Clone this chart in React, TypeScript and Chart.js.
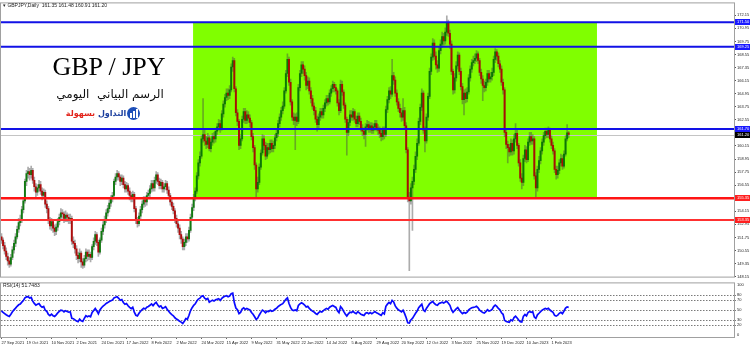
import React, { useEffect, useRef } from "react";
import { Chart, registerables } from "chart.js";
Chart.register(...registerables);

const symbolHeader = "GBPJPY,Daily  161.35 161.48 160.91 161.20";
const titleText = "GBP / JPY";
const subtitleText = "الرسم البياني  اليومي";
const brandBlue = "التداول";
const brandRed = "بسهولة";
const rsiHeader = "RSI(14) 51.7483";

const firstOpen = 151.8;
const closes = [
  151.5,151.0,150.5,150.0,149.6,149.3,149.9,150.6,151.2,151.8,
  152.5,153.1,153.4,154.3,155.1,156.9,157.6,157.8,157.5,157.9,
  157.0,156.4,155.9,156.3,156.6,156.0,155.6,155.9,154.8,154.4,
  153.3,152.8,153.2,152.6,152.3,152.7,153.2,153.6,154.0,153.9,
  153.5,153.8,153.6,153.4,153.5,151.4,151.2,150.7,150.1,149.8,
  150.3,149.5,149.2,149.8,150.4,150.0,150.2,149.9,150.9,151.4,
  152.0,151.3,150.4,151.5,152.3,152.9,153.4,154.0,154.4,154.9,
  155.3,155.6,156.9,157.3,157.6,157.3,156.9,157.2,156.6,156.2,
  156.5,156.0,155.6,155.3,155.7,154.4,153.3,153.0,153.7,154.3,
  154.8,155.2,155.0,155.6,155.8,156.2,156.7,156.3,157.0,157.5,
  156.9,156.5,156.8,156.2,156.4,156.7,156.1,155.6,155.0,154.6,
  154.2,153.5,153.0,152.6,152.0,151.6,150.9,151.3,151.8,151.6,
  152.4,153.6,154.5,155.4,156.0,157.4,158.6,159.2,160.8,161.2,
  160.6,160.3,160.9,159.9,160.5,161.0,160.8,161.5,161.9,162.2,
  161.8,163.1,164.0,164.6,165.0,164.8,165.3,167.4,168.0,165.4,
  163.2,162.4,160.2,160.8,162.6,163.3,162.5,163.0,162.7,162.3,
  161.0,160.0,158.4,156.2,156.8,158.2,159.5,160.8,160.2,159.2,
  160.0,159.8,160.4,159.9,160.2,160.9,161.3,162.2,162.8,163.4,
  163.8,165.2,166.8,168.1,166.0,164.2,162.8,162.5,162.8,162.4,
  165.5,166.8,167.6,167.2,166.6,165.7,166.1,165.2,164.5,163.8,
  163.4,162.6,162.1,162.8,163.3,163.0,163.6,164.1,164.5,164.2,
  165.0,165.4,165.8,165.5,165.2,164.1,163.4,165.8,165.1,163.9,
  162.6,161.4,162.3,163.0,162.8,163.3,162.6,162.2,162.9,162.4,
  161.8,161.5,161.2,161.9,162.1,161.7,162.0,161.6,161.9,162.2,
  161.8,161.6,161.3,161.0,161.6,161.2,163.5,164.4,165.2,164.9,
  166.6,166.2,165.0,164.2,163.6,163.2,162.8,163.4,162.0,159.8,
  155.4,155.1,156.3,156.9,158.0,159.2,160.4,162.4,163.7,165.0,
  161.6,160.6,162.8,164.7,167.0,168.3,169.6,168.4,167.6,167.3,
  168.9,169.5,170.2,169.8,170.6,171.4,170.5,169.5,167.0,165.3,
  166.4,167.5,168.5,167.0,165.6,164.4,165.0,164.5,165.1,166.4,
  167.2,167.8,168.0,168.2,168.6,168.0,166.9,166.3,165.7,165.5,
  166.0,166.8,166.3,166.5,166.9,168.1,168.8,168.4,167.7,167.2,
  166.0,165.3,161.4,160.3,160.0,159.6,160.4,159.7,160.8,161.3,
  160.2,158.6,157.2,156.8,159.0,159.8,158.9,160.5,161.0,160.6,
  160.8,157.4,156.3,158.0,158.8,159.7,160.5,161.1,161.5,161.2,
  161.6,160.8,160.2,159.7,158.0,157.5,157.9,158.6,159.0,158.3,
  159.4,160.8,161.35,161.2,
];
const highs = [
  152.1,151.7,151.3,150.8,150.3,149.9,150.2,150.9,151.5,152.1,
  152.8,153.5,153.8,154.6,155.4,157.1,157.9,158.2,158.1,158.3,
  158.1,157.3,156.7,156.6,157.0,156.9,156.3,156.2,156.1,155.1,
  154.6,153.6,153.5,153.4,152.9,153.0,153.5,153.9,154.4,154.3,
  154.1,154.2,154.0,153.9,153.9,153.7,151.8,151.5,151.0,150.4,
  150.7,150.5,149.8,150.1,150.7,150.6,150.6,150.4,151.1,151.7,
  152.3,152.2,151.5,151.7,152.6,153.2,153.7,154.3,154.7,155.2,
  155.6,155.9,157.1,157.6,157.9,157.8,157.5,157.5,157.4,156.9,
  156.8,156.7,156.3,155.9,156.0,155.9,154.6,153.6,154.0,154.6,
  155.1,155.5,155.5,155.9,156.1,156.5,157.0,157.0,157.3,157.8,
  157.7,157.2,157.1,157.0,156.7,157.0,156.9,156.4,155.8,155.3,
  154.9,154.4,153.8,153.3,152.9,152.3,151.8,151.6,152.1,152.1,
  152.7,153.9,154.8,155.7,156.3,157.7,158.9,159.6,161.1,164.5,
  161.6,161.0,161.3,161.1,160.8,161.3,161.4,161.8,162.2,162.6,
  162.5,163.4,164.3,164.9,165.4,165.4,165.7,167.7,168.3,168.2,
  165.6,163.5,162.6,161.2,162.9,163.6,163.6,163.4,163.3,163.0,
  162.5,161.3,160.2,158.6,157.3,158.5,159.8,161.2,161.1,160.5,
  160.4,160.4,160.7,160.7,160.6,161.2,161.7,162.5,163.1,163.7,
  164.2,165.5,167.1,168.6,168.3,166.3,164.4,163.2,163.1,163.2,
  165.8,167.1,167.9,167.9,167.5,166.9,166.5,166.4,165.5,164.8,
  164.1,163.7,162.9,163.1,163.6,163.6,163.9,164.4,164.8,164.8,
  165.3,165.7,166.1,166.0,165.8,165.4,164.4,166.2,166.1,165.3,
  164.1,162.8,162.6,163.4,163.4,163.6,163.5,162.9,163.2,163.2,
  162.7,162.1,161.8,162.2,162.5,162.4,162.3,162.3,162.2,162.5,
  162.5,162.1,161.9,161.6,161.9,161.9,163.8,164.7,165.5,165.6,
  168.1,166.9,166.5,165.3,164.5,164.0,163.6,164.5,163.7,162.3,
  160.0,155.9,156.7,157.3,158.4,159.6,160.8,162.7,164.0,165.4,
  165.2,161.9,163.1,165.0,167.3,168.6,170.0,169.9,168.8,168.0,
  169.2,169.9,170.6,170.5,171.0,172.1,171.7,170.8,169.8,167.2,
  166.8,167.9,168.8,168.7,167.3,165.9,165.3,165.4,165.5,166.7,
  167.5,168.1,168.4,168.6,168.9,168.8,168.2,167.2,166.6,166.1,
  166.3,167.1,167.1,166.9,167.3,168.4,169.1,169.0,168.7,168.0,
  167.5,166.3,165.5,161.7,160.6,160.3,160.8,160.7,161.2,162.2,
  161.6,160.4,158.9,157.6,159.3,160.2,160.1,160.8,161.4,161.4,
  161.2,161.0,157.7,158.3,159.2,160.0,160.8,161.4,161.8,161.8,
  161.9,161.8,161.1,160.5,159.9,158.3,158.3,158.9,159.4,159.3,
  159.7,161.1,162.1,161.48,
];
const lows = [
  151.2,150.7,150.2,149.7,149.2,149.0,149.1,149.7,150.3,150.9,
  151.6,152.2,152.8,153.1,154.0,154.9,156.5,157.2,157.0,157.2,
  156.7,156.0,155.5,155.6,156.0,155.7,155.2,155.3,154.5,154.0,
  153.0,152.5,152.4,152.2,151.9,152.0,152.4,152.9,153.3,153.5,
  153.1,153.2,153.2,153.0,153.0,151.1,150.8,150.3,149.7,149.4,
  149.5,149.0,148.9,149.0,149.5,149.6,149.7,149.5,149.7,150.6,
  151.1,151.0,150.0,150.2,151.3,152.0,152.6,153.1,153.7,154.1,
  154.6,155.0,155.4,156.6,157.0,157.0,156.5,156.6,156.3,155.9,
  155.9,155.7,155.2,155.0,155.0,154.1,153.0,152.7,152.8,153.4,
  154.0,154.5,154.6,154.7,155.3,155.5,155.9,156.0,156.0,156.7,
  156.6,156.2,156.2,155.9,155.9,156.1,155.8,155.3,154.7,154.3,
  153.9,153.1,152.7,152.2,151.6,151.2,150.6,150.6,151.0,151.3,
  151.4,152.2,153.3,154.2,155.1,155.8,157.1,158.3,159.0,160.5,
  160.2,159.9,160.0,159.7,159.6,160.2,160.4,160.5,161.2,161.6,
  161.4,161.6,162.8,163.7,164.3,164.4,164.5,165.1,167.0,165.1,
  162.9,162.0,159.8,159.9,160.6,162.3,162.2,162.2,162.3,161.9,
  160.7,159.6,158.0,155.4,155.9,156.6,158.0,159.3,159.8,158.9,
  159.0,159.4,159.5,159.6,159.6,159.9,160.6,161.0,161.9,162.5,
  163.1,163.6,165.0,166.5,165.7,163.9,162.5,162.1,159.8,162.0,
  162.2,165.2,166.5,166.8,166.2,165.3,165.4,164.9,164.1,163.5,
  163.0,162.3,161.5,161.8,162.5,162.7,162.7,163.3,163.8,163.9,
  164.0,164.7,165.1,165.1,164.9,163.8,163.0,163.2,164.8,163.6,
  162.3,159.3,161.1,162.0,162.5,162.5,162.3,161.9,161.9,162.1,
  161.5,161.1,160.8,160.1,161.6,161.4,161.4,161.3,161.3,161.6,
  161.5,161.2,160.9,160.6,160.7,160.8,161.0,163.2,164.1,164.5,
  164.7,165.8,164.7,163.9,163.3,162.8,162.4,162.5,161.7,159.5,
  155.0,148.7,154.8,152.4,156.6,157.7,158.9,160.2,162.1,163.4,
  161.3,159.6,160.4,162.5,164.5,166.7,168.0,168.1,167.2,166.9,
  167.0,168.6,169.2,169.4,169.5,170.3,170.2,169.1,166.7,164.9,
  165.0,166.1,167.2,166.7,165.3,164.0,163.0,164.1,164.2,164.9,
  166.1,166.9,167.5,167.7,167.9,167.7,166.6,165.9,164.3,165.1,
  165.2,165.7,166.0,166.0,166.2,166.6,167.8,168.0,167.4,166.9,
  165.7,164.9,161.0,159.9,158.6,159.2,159.3,159.3,159.4,160.5,
  159.9,158.3,156.9,156.2,156.5,158.7,158.6,158.7,160.2,160.3,
  160.3,157.1,155.4,156.0,157.7,158.5,159.4,160.2,160.8,160.9,
  160.9,160.5,159.9,159.4,157.7,157.1,157.2,157.6,158.3,158.0,
  158.1,159.2,160.6,160.91,
];

const dateTickIdx = [0,16,32,48,64,80,96,112,128,144,160,176,192,208,224,240,256,272,288,304,320,336,352];
const dateLabels = [
  "27 Sep 2021","19 Oct 2021","10 Nov 2021","2 Dec 2021","24 Dec 2021","17 Jan 2022",
  "8 Feb 2022","2 Mar 2022","24 Mar 2022","15 Apr 2022","9 May 2022","31 May 2022",
  "22 Jun 2022","14 Jul 2022","5 Aug 2022","29 Aug 2022","20 Sep 2022","12 Oct 2022",
  "3 Nov 2022","25 Nov 2022","19 Dec 2022","10 Jan 2023","1 Feb 2023",
];
const priceTicks = [148.15,149.35,150.55,151.75,152.95,154.15,155.35,156.55,157.75,158.95,160.15,161.35,162.55,163.75,164.95,166.15,167.35,168.55,169.75,170.95,172.15];
const rsiTicks = [0, 20, 30, 50, 70, 80, 100];
const rsiLevels = [20, 30, 50, 70, 80];
const rsiPeriod = 14;
const rsiSeed = 0.35;

const resistanceLevels = [171.5, 169.25, 161.7];
const supportLevels = [155.35, 153.35];
const lastPrice = 161.2;
const rangeStartIdx = 122.6;
const rangeEndIdx = 381.1;
const rangeTop = 171.5;
const rangeBottom = 155.35;

const X_MIN = -0.32;
const X_MAX = 468.8;
const FONT = "Liberation Sans";

function drawTag(ctx: CanvasRenderingContext2D, left: number, y: number, bg: string, text: string) {
  ctx.fillStyle = bg;
  ctx.fillRect(left, Math.round(y) - 3, 750 - left, 6);
  ctx.fillStyle = "#ffffff";
  ctx.font = `4px "${FONT}"`;
  ctx.textBaseline = "middle";
  ctx.textAlign = "left";
  ctx.fillText(text, left + 2, Math.round(y) + 0.3);
}

export default function App() {
  const priceRef = useRef<HTMLCanvasElement>(null);
  const rsiRef = useRef<HTMLCanvasElement>(null);

  useEffect(() => {
    document.body.style.margin = "0";
    const opens = closes.map((c, i) => (i === 0 ? firstOpen : closes[i - 1]));

    const rsiValues: number[] = [];
    let ag = rsiSeed;
    let al = rsiSeed;
    closes.forEach((c, i) => {
      const ch = c - opens[i];
      ag = (ag * (rsiPeriod - 1) + Math.max(ch, 0)) / rsiPeriod;
      al = (al * (rsiPeriod - 1) + Math.max(-ch, 0)) / rsiPeriod;
      rsiValues.push(100 - 100 / (1 + ag / al));
    });

    const overlayPrice = {
      id: "overlayPrice",
      beforeDatasetsDraw(chart: any) {
        const { ctx, chartArea: a, scales } = chart;
        const x = scales.x;
        const y = scales.y;
        ctx.save();
        ctx.beginPath();
        ctx.rect(a.left, a.top, a.right - a.left, a.bottom - a.top);
        ctx.clip();
        const x0 = x.getPixelForValue(rangeStartIdx);
        const x1 = x.getPixelForValue(rangeEndIdx);
        const y0 = y.getPixelForValue(rangeTop);
        const y1 = y.getPixelForValue(rangeBottom);
        ctx.fillStyle = "#80ff00";
        ctx.fillRect(x0, y0, x1 - x0, y1 - y0);
        const yp = Math.round(y.getPixelForValue(lastPrice)) + 0.5;
        ctx.strokeStyle = "#c4c4c4";
        ctx.lineWidth = 1;
        ctx.beginPath();
        ctx.moveTo(a.left, yp);
        ctx.lineTo(a.right, yp);
        ctx.stroke();
        ctx.restore();
      },
      afterDatasetsDraw(chart: any) {
        const { ctx, chartArea: a, scales } = chart;
        const y = scales.y;
        ctx.save();
        resistanceLevels.forEach((v) => {
          const py = y.getPixelForValue(v);
          ctx.strokeStyle = "#1212e6";
          ctx.lineWidth = 2;
          ctx.beginPath();
          ctx.moveTo(0, py);
          ctx.lineTo(a.right, py);
          ctx.stroke();
        });
        supportLevels.forEach((v, k) => {
          const py = y.getPixelForValue(v);
          ctx.strokeStyle = k === 0 ? "#ff1414" : "#ff3030";
          ctx.lineWidth = k === 0 ? 2.5 : 2;
          ctx.beginPath();
          ctx.moveTo(0, py);
          ctx.lineTo(a.right, py);
          ctx.stroke();
        });
        ctx.strokeStyle = "#a0a0a0";
        ctx.lineWidth = 1;
        ctx.strokeRect(a.left - 0.5, a.top - 0.5, a.right - a.left + 1, a.bottom - a.top + 1);
        ctx.restore();
      },
      afterDraw(chart: any) {
        const { ctx, chartArea: a, scales } = chart;
        const y = scales.y;
        ctx.save();
        resistanceLevels.forEach((v) => drawTag(ctx, a.right + 1, y.getPixelForValue(v), "#1a1aff", v.toFixed(2)));
        supportLevels.forEach((v) => drawTag(ctx, a.right + 1, y.getPixelForValue(v), "#ff2020", v.toFixed(2)));
        drawTag(ctx, a.right + 1, y.getPixelForValue(lastPrice), "#000000", lastPrice.toFixed(2));
        ctx.restore();
      },
    };

    const overlayRsi = {
      id: "overlayRsi",
      afterDatasetsDraw(chart: any) {
        const { ctx, chartArea: a } = chart;
        ctx.save();
        ctx.strokeStyle = "#a0a0a0";
        ctx.lineWidth = 1;
        ctx.strokeRect(a.left - 0.5, a.top - 0.5, a.right - a.left + 1, a.bottom - a.top + 1);
        ctx.restore();
      },
    };

    const priceChart = new Chart(priceRef.current as HTMLCanvasElement, {
      type: "bar",
      data: {
        datasets: [
          {
            data: closes.map((c, i) => ({ x: i, y: [opens[i], c] })) as any,
            backgroundColor: closes.map((c, i) => (c >= opens[i] ? "rgba(0,115,0,0.9)" : "rgba(175,0,0,0.92)")),
            borderWidth: 0,
            barThickness: 1.3,
            grouped: false,
            order: 0,
          } as any,
          {
            data: closes.map((c, i) => ({ x: i, y: [lows[i], highs[i]] })) as any,
            backgroundColor: "rgba(70,70,70,0.45)",
            borderWidth: 0,
            barThickness: 1,
            grouped: false,
            order: 1,
          } as any,
        ],
      },
      options: {
        responsive: false,
        devicePixelRatio: 1,
        animation: false,
        layout: { padding: { left: 1, top: 2, right: 0, bottom: 2 } },
        plugins: { legend: { display: false }, tooltip: { enabled: false } },
        scales: {
          x: { type: "linear", min: X_MIN, max: X_MAX, display: false, offset: false },
          y: {
            position: "right",
            min: 148.15,
            max: 173.24,
            afterBuildTicks: (s: any) => {
              s.ticks = priceTicks.map((v) => ({ value: v }));
            },
            afterFit: (s: any) => {
              s.width = 16;
            },
            ticks: {
              autoSkip: false,
              padding: 1,
              color: "#222",
              font: { family: FONT, size: 4 },
              callback: (v: any) => Number(v).toFixed(2),
            },
            grid: { drawOnChartArea: false, drawTicks: true, tickLength: 2, color: "#555" },
            border: { display: true, color: "#888", width: 1 },
          },
        },
      } as any,
      plugins: [overlayPrice],
    });

    const rsiChart = new Chart(rsiRef.current as HTMLCanvasElement, {
      type: "line",
      data: {
        datasets: [
          {
            data: rsiValues.map((v, i) => ({ x: i, y: v })),
            borderColor: "#0a0aff",
            borderWidth: 1.7,
            pointRadius: 0,
            tension: 0,
          },
        ],
      },
      options: {
        responsive: false,
        devicePixelRatio: 1,
        animation: false,
        layout: { padding: { left: 1, top: 1, right: 0, bottom: 0 } },
        plugins: { legend: { display: false }, tooltip: { enabled: false } },
        scales: {
          x: {
            type: "linear",
            min: X_MIN,
            max: X_MAX,
            offset: false,
            afterBuildTicks: (s: any) => {
              s.ticks = dateTickIdx.map((v) => ({ value: v }));
            },
            afterFit: (s: any) => {
              s.height = 9;
            },
            ticks: {
              autoSkip: false,
              maxRotation: 0,
              minRotation: 0,
              align: "start",
              padding: 1,
              color: "#222",
              font: { family: FONT, size: 4 },
              callback: (v: any) => {
                const k = dateTickIdx.indexOf(Number(v));
                return k >= 0 ? dateLabels[k] : "";
              },
            },
            grid: { drawOnChartArea: false, drawTicks: true, tickLength: 2, color: "#666" },
            border: { display: true, color: "#888" },
          },
          y: {
            position: "right",
            min: -3.85,
            max: 103.85,
            afterBuildTicks: (s: any) => {
              s.ticks = rsiTicks.map((v) => ({ value: v }));
            },
            afterFit: (s: any) => {
              s.width = 16;
            },
            ticks: {
              autoSkip: false,
              padding: 1,
              color: "#222",
              font: { family: FONT, size: 4 },
              callback: (v: any) => String(v),
            },
            grid: {
              drawOnChartArea: true,
              drawTicks: true,
              tickLength: 2,
              color: (c: any) => (c.tick && rsiLevels.includes(c.tick.value) ? "#7a7a7a" : "rgba(0,0,0,0)"),
            },
            border: { display: true, color: "#888", dash: [1.5, 1.5] },
          },
        },
      } as any,
      plugins: [overlayRsi],
    });

    return () => {
      priceChart.destroy();
      rsiChart.destroy();
    };
  }, []);

  return (
    <div style={{ position: "relative", width: 750, height: 346, background: "#ffffff", overflow: "hidden" }}>
      <canvas ref={priceRef} width={750} height={280} style={{ position: "absolute", left: 0, top: 0, display: "block" }} />
      <canvas ref={rsiRef} width={750} height={66} style={{ position: "absolute", left: 0, top: 280, display: "block" }} />
      <div style={{ position: "absolute", left: 3, top: 2, fontFamily: FONT, fontSize: 5, color: "#222", whiteSpace: "pre", lineHeight: "6px" }}>
        {"▾ " + symbolHeader}
      </div>
      <div style={{ position: "absolute", left: 0, top: 54, width: 218, textAlign: "center", fontFamily: "Liberation Serif", fontSize: 26, lineHeight: "26px", color: "#000" }}>
        {titleText}
      </div>
      <div dir="rtl" style={{ position: "absolute", left: 0, top: 87, width: 220, textAlign: "center", fontFamily: "DejaVu Sans", fontSize: 12, lineHeight: "15px", color: "#111", whiteSpace: "pre" }}>
        {subtitleText}
      </div>
      <div dir="rtl" style={{ position: "absolute", left: 64, top: 108, width: 64, textAlign: "center", fontFamily: "DejaVu Sans", fontWeight: 700, fontSize: 8, lineHeight: "12px", whiteSpace: "nowrap" }}>
        <span style={{ color: "#1c3f9e" }}>{brandBlue}</span>
        <span style={{ color: "#e2231a" }}>{" " + brandRed}</span>
      </div>
      <div style={{ position: "absolute", left: 127, top: 107, width: 13, height: 13, borderRadius: "50%", background: "#1d4fb8" }}>
        <div style={{ position: "absolute", left: 3, top: 6, width: 2, height: 5, background: "#fff" }} />
        <div style={{ position: "absolute", left: 6, top: 4, width: 2, height: 7, background: "#fff" }} />
        <div style={{ position: "absolute", left: 9, top: 2, width: 2, height: 9, background: "#fff" }} />
      </div>
      <div style={{ position: "absolute", left: 3, top: 282, fontFamily: FONT, fontSize: 5, color: "#222", whiteSpace: "pre", lineHeight: "6px" }}>
        {rsiHeader}
      </div>
    </div>
  );
}
